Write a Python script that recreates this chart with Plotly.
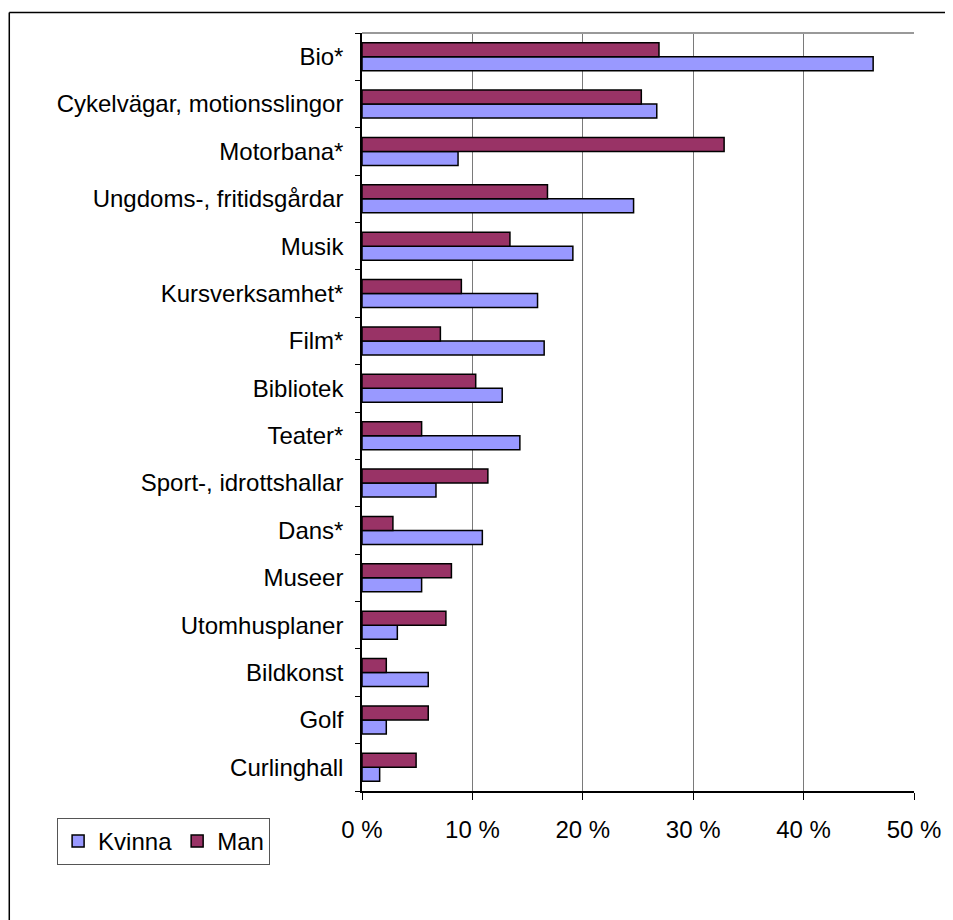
import plotly.graph_objects as go

categories = [
    "Bio*", "Cykelvägar, motionsslingor", "Motorbana*", "Ungdoms-, fritidsgårdar",
    "Musik", "Kursverksamhet*", "Film*", "Bibliotek", "Teater*",
    "Sport-, idrottshallar", "Dans*", "Museer", "Utomhusplaner", "Bildkonst",
    "Golf", "Curlinghall",
]
kvinna = [46.3, 26.7, 8.7, 24.6, 19.1, 15.9, 16.5, 12.7, 14.3, 6.7, 10.9, 5.4, 3.2, 6.0, 2.2, 1.6]
man = [26.9, 25.3, 32.8, 16.8, 13.4, 9.0, 7.1, 10.3, 5.4, 11.4, 2.8, 8.1, 7.6, 2.2, 6.0, 4.9]
x_ticks = [0, 10, 20, 30, 40, 50]
x_labels = [f"{v} %" for v in x_ticks]

# the page puts the figure 8px in from the top-left corner
OFF = 8
W, H = 953 - OFF, 920 - OFF
L, R, T, B = 362 - OFF, 916 - OFF, 33 - OFF, 791 - OFF

def px_x(p):
    return (p - OFF - L) / (R - L)

def px_y(p):
    return (B - (p - OFF)) / (B - T)

font = "Liberation Sans, Arial, sans-serif"

fig = go.Figure()
fig.add_trace(go.Bar(
    y=categories, x=kvinna, name="Kvinna", orientation="h",
    marker=dict(color="#9999FF", line=dict(color="black", width=1.5)),
))
fig.add_trace(go.Bar(
    y=categories, x=man, name="Man", orientation="h",
    marker=dict(color="#993366", line=dict(color="black", width=1.5)),
))

fig.update_layout(
    width=W, height=H,
    margin=dict(l=L, r=W - R, t=T, b=H - B),
    barmode="group", bargap=0.41, bargroupgap=0,
    plot_bgcolor="white", paper_bgcolor="white",
    font=dict(family=font, size=24, color="black"),
    legend=dict(
        orientation="h", x=px_x(56), y=px_y(818), xanchor="left", yanchor="top",
        bordercolor="#555555", borderwidth=1, font=dict(size=24),
        traceorder="normal", itemwidth=30,
    ),
    shapes=[
        dict(type="line", xref="paper", yref="paper", x0=0, x1=1, y0=1, y1=1,
             line=dict(color="#999999", width=2)),
        dict(type="line", xref="paper", yref="paper", x0=px_x(8), x1=px_x(970),
             y0=px_y(12.5), y1=px_y(12.5), line=dict(color="black", width=1.5)),
        dict(type="line", xref="paper", yref="paper", x0=px_x(8), x1=px_x(8),
             y0=px_y(12.5), y1=px_y(940), line=dict(color="black", width=1.5)),
    ],
)

fig.update_xaxes(
    range=[0, 50], tickvals=x_ticks, ticktext=x_labels,
    showgrid=True, gridcolor="#7a7a7a", gridwidth=1,
    showline=True, linecolor="black", linewidth=1.5,
    ticks="outside", ticklen=7, tickcolor="black",
    ticklabelstandoff=9, zeroline=False,
)
fig.update_yaxes(
    categoryorder="array", categoryarray=categories[::-1],
    showline=True, linecolor="black", linewidth=1.5,
    ticks="outside", ticklen=5, tickcolor="black", tickson="boundaries",
    ticklabelstandoff=12, showgrid=False,
)

fig.write_html("out.html")
